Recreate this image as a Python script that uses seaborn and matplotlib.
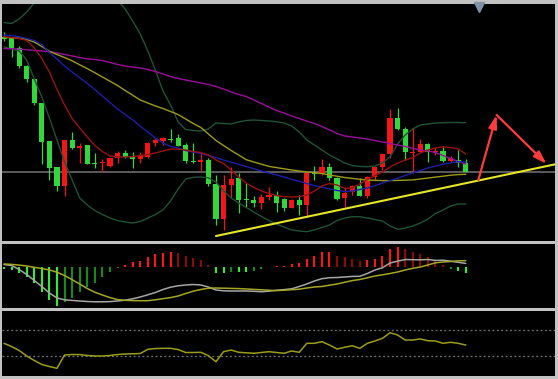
import numpy as np
import matplotlib
matplotlib.use("Agg")
import matplotlib.pyplot as plt
import seaborn as sns

# ---------------- data ----------------
opens = [213.3, 212.3, 202.3, 184.3, 170.7, 147.3, 109, 82.7, 64, 110, 101.7, 105, 87.3, 86.7, 84.3, 91.7,
         96.7, 92.7, 91.3, 93, 107.3, 109.3, 111.3, 111.7, 105, 89.3, 88, 90, 66, 31.3, 64.7, 71.7,
         51, 50, 46.7, 52.7, 54.7, 51.3, 42.3, 50, 45, 76.7, 76, 83.3, 72.3, 51.7, 57.7, 64.3,
         54, 73.3, 83.3, 95.7, 131.7, 120.7, 97.3, 98.3, 106, 97.7, 99, 89, 90, 87.3]
closes = [210.7, 202.3, 184.3, 170.7, 147.3, 108.3, 82.3, 64, 110, 101.7, 104.3, 86.3, 86.3, 88, 91.7, 97.3,
          92.7, 91.3, 94, 107.3, 110, 111.7, 110.5, 104.3, 89, 88, 90, 66, 31, 64.7, 70.7, 50,
          49.7, 46.7, 53.3, 54.7, 46.7, 41.7, 50, 45, 76.7, 76, 83.3, 71.7, 50.7, 57.3, 64.3, 54.3,
          73.3, 83.3, 95.7, 131.7, 120.7, 97.7, 98.3, 106, 98.3, 99, 89, 92.3, 87.3, 78.3]
highs = [218, 213, 204.3, 185, 171, 147.3, 109, 83, 110, 117.7, 106.7, 105, 96.7, 91, 92, 99,
         100, 98.3, 98, 108, 111.7, 113, 121, 116, 106.7, 107, 96.7, 91.7, 75, 75, 83.3, 76.7,
         66.7, 54, 56, 63.3, 59.3, 52, 51, 55, 76.7, 84.3, 91, 86.7, 73, 63.3, 65, 72.3,
         74, 84, 96, 141, 141.7, 123.3, 121.7, 111, 106.7, 103.3, 103, 94, 100, 90.7]
lows = [209, 193.3, 182.3, 167.7, 145, 85.7, 70, 59, 54.3, 101, 86.7, 86, 82.3, 78.3, 83.3, 86.7,
        92, 81.7, 86.7, 92.5, 104, 105, 108.3, 104, 86.7, 87, 79.3, 64, 25, 20, 53.3, 37.3,
        43.3, 43, 41, 50, 38.3, 39.3, 42, 35, 33.3, 70, 75, 70, 50, 43.3, 55, 54,
        52, 70, 80, 91.7, 120.5, 90, 76.7, 98, 88.3, 95, 88, 88, 83.3, 78.3]

ma_darkred = [213.3, 212.5, 211.5, 209.5, 202, 191.5, 178, 160.5, 145, 131.5, 122, 113, 104.5, 98.5, 94, 93,
              93, 93.3, 94.5, 95.5, 97, 99, 101, 100.7, 100, 98.5, 97.5, 95, 90, 86.5, 80, 73,
              67, 62.5, 59, 56.5, 54.5, 53.3, 53, 53.3, 55, 59, 64, 66.5, 65, 61.5, 62, 66,
              70.5, 74.5, 78, 83, 87, 90, 92.5, 97, 100, 102, 103.3, 102.5, 101, 96]
ma_blue = [215, 214.2, 213.4, 211.5, 209.5, 205.5, 197.5, 191, 184, 178, 172.3, 166.5, 160.5, 154, 147.5, 141,
           135.5, 130, 123.8, 118, 112, 107, 103.5, 102, 99.5, 97.7, 96.5, 94.5, 92.5, 90, 87.8, 85.7,
           83.5, 81.3, 79, 77, 75, 73, 70.7, 68.7, 66.5, 64.4, 62.7, 61, 59.5, 58.5, 59, 60.5,
           62, 64.3, 67, 69.4, 71.7, 74.5, 77, 79.5, 82, 84, 85.8, 87.2, 88.3, 87.8]
ma_olive = [212.5, 212.2, 211.8, 210.5, 208, 203.5, 198.7, 195.5, 192.5, 189.2, 185.2, 181.4, 177.3, 173, 168.8, 164.5,
            159.5, 154.8, 150, 147, 144, 141.5, 138.5, 135.5, 131, 126.5, 122.5, 116, 109.5, 104.5, 99.5, 95,
            90.3, 88, 85.8, 83.6, 82.4, 81.2, 80, 79, 78, 77.3, 76.4, 75, 73.8, 72.5, 71.6, 70.7,
            70, 69.7, 69.4, 69.4, 69.6, 69.8, 70.1, 71, 71.9, 72.9, 73.8, 74.8, 75.4, 75.7]
ma_purple = [201.5, 201.2, 200.8, 200.3, 199.7, 199, 198.2, 197, 195.5, 194, 192.5, 191.2, 190.5, 189.5, 187.5, 185.5,
             184, 183, 182, 180.5, 178.5, 176, 173.5, 171.5, 170, 168.5, 167, 165.5, 163.5, 161, 158, 155.5,
             153.5, 150, 146.5, 143, 139.5, 137, 134, 131.5, 129, 126.5, 123.5, 120, 116.5, 114, 113, 112,
             111, 109.5, 108, 106.5, 105, 103.5, 101.7, 100, 99, 97.5, 94.5, 91.5, 88.5, 86]
boll_upper = [227.5, 226.5, 231, 238, 247, 258, 268, 276, 281, 283, 283, 281, 276, 268, 259, 250,
              241, 229, 216, 199, 180, 159, 145, 128, 120.5, 119.5, 119, 121, 127, 126.5, 126, 128,
              129.5, 130, 129.5, 129, 128.3, 127, 124, 118, 110, 105, 100, 95, 91, 87, 84.5, 83.5,
              83.3, 84, 87, 93.3, 106, 115, 121, 125, 126, 127, 127.3, 127.5, 127.5, 127.3]
boll_lower = [203, 201, 199, 190, 171, 153, 132, 110, 88, 70, 52, 45, 39.5, 35.5, 32, 29.5,
              28, 27, 28.5, 32, 35.5, 40, 49, 61, 71, 72.7, 73, 72.2, 68, 59.5, 52, 47,
              42.5, 38, 33.5, 29.5, 26, 23, 20, 19, 18.3, 20, 22.5, 25, 29.5, 32, 33.3, 33.3,
              32, 30.5, 29, 24, 20.7, 22, 24, 27, 31, 36.5, 40, 44, 46, 46]

level_price = 78
trend_x = [28, 73]
trend_y = [14, 86]
arrow_up = [(62.66, 70), (65.08, 135)]
arrow_down = [(65.08, 135), (71.69, 86)]
marker_pos = (62.8, 243.5)

macd_hist = [-0.17, -0.27, -0.6, -1.0, -1.6, -2.44, -3.27, -3.87, -3.5, -3.04, -2.44, -1.94, -1.54, -1.0, -0.47, -0.1,
             0.23, 0.5, 0.66, 1.0, 1.33, 1.46, 1.56, 1.4, 1.16, 0.9, 0.73, 0.23, -0.6, -0.6, -0.44, -0.5,
             -0.5, -0.37, -0.2, 0.06, 0.13, 0.13, 0.32, 0.4, 0.83, 1.16, 1.53, 1.53, 1.16, 1.0, 0.83, 0.6,
             0.75, 0.87, 1.16, 1.87, 2.06, 1.78, 1.56, 1.36, 1.0, 0.62, 0.2, -0.15, -0.34, -0.57]
macd_line = [0.28, 0.18, -0.22, -0.72, -1.32, -1.92, -2.57, -3.07, -3.25, -3.31, -3.37, -3.42, -3.45, -3.45, -3.43, -3.37,
             -3.29, -3.15, -2.97, -2.75, -2.52, -2.22, -1.99, -1.85, -1.77, -1.72, -1.77, -1.97, -2.27, -2.35, -2.37, -2.37,
             -2.37, -2.4, -2.44, -2.39, -2.3, -2.23, -2.15, -1.92, -1.67, -1.37, -1.14, -1.04, -1.02, -0.97, -0.91, -0.9,
             -0.62, -0.27, -0.05, 0.43, 0.61, 0.78, 0.76, 0.75, 0.78, 0.69, 0.71, 0.61, 0.5, 0.39]
macd_signal = [0.33, 0.29, 0.22, 0.13, 0.0, -0.13, -0.27, -0.49, -0.82, -1.24, -1.67, -2.12, -2.49, -2.77, -3.03, -3.23,
               -3.3, -3.33, -3.34, -3.34, -3.25, -3.14, -3.03, -2.87, -2.62, -2.39, -2.22, -2.09, -2.07, -2.09, -2.11, -2.13,
               -2.17, -2.21, -2.25, -2.29, -2.33, -2.29, -2.24, -2.19, -2.07, -1.97, -1.92, -1.79, -1.67, -1.5, -1.33, -1.22,
               -1.05, -0.87, -0.75, -0.62, -0.47, -0.27, -0.1, 0.03, 0.23, 0.45, 0.53, 0.58, 0.65, 0.66]

rsi = [49.5, 44.6, 38.5, 30, 23.1, 16.9, 13.8, 11.1, 31.5, 32.3, 32.2, 30.8, 30, 30, 30.8, 32.3,
       33.1, 33.4, 33.8, 40.3, 41.5, 41.8, 41.8, 40, 35.4, 35.4, 35.7, 30.5, 21.2, 36.6, 39.2, 35.7,
       34.9, 34.2, 35.4, 36.6, 35.4, 34.2, 37.7, 35.7, 49.5, 49.5, 52, 46.9, 40.8, 43.4, 45.8, 41.8,
       49.5, 53.1, 57.2, 65.8, 62.3, 54.6, 54.6, 56.2, 53.5, 53.1, 49.5, 51.1, 49.5, 46.9]
rsi_levels = [70, 30]

# ---------------- style ----------------
sns.set_theme(style="dark")
plt.rcParams['font.family'] = ['DejaVu Sans']

RED = '#f41616'
GREEN = '#30d83a'
W, H = 558, 379
fig = plt.figure(figsize=(W / 100, H / 100), dpi=100, facecolor='#c2c2c2')


def add_ax(top, bottom):
    ax = fig.add_axes([2 / W, 1 - bottom / H, 553 / W, (bottom - top) / H])
    ax.set_facecolor('black')
    for s in ax.spines.values():
        s.set_visible(False)
    ax.set_xticks([])
    ax.set_yticks([])
    ax.grid(False)
    ax.set_xlim(-0.264, 72.79)
    return ax


idx = np.arange(len(opens))

# ---------------- main price panel ----------------
ax = add_ax(4, 240.5)
ax.set_ylim(9.5, 246)
ax.axhline(level_price, color='#5c5c5c', lw=1.4, zorder=1)

o = np.array(opens)
c = np.array(closes)
cols = np.where(c >= o, RED, GREEN)
ax.vlines(idx, lows, highs, colors=cols, lw=0.9, zorder=3)
body_bottom = np.minimum(o, c)
body_h = np.maximum(np.abs(c - o), 1.0)
ax.bar(idx, body_h, bottom=body_bottom, width=0.68, color=cols, edgecolor='none', zorder=4)

for arr, col in [(boll_upper, '#1f5236'), (boll_lower, '#1f5236'), (ma_purple, '#9a0f9a'),
                 (ma_olive, '#9c9c18'), (ma_blue, '#1e1ea8'), (ma_darkred, '#9a1212')]:
    sns.lineplot(x=idx, y=arr, ax=ax, color=col, linewidth=1.0, legend=False, zorder=5)

sns.lineplot(x=trend_x, y=trend_y, ax=ax, color='#e6e628', linewidth=1.5, legend=False, zorder=6)

for seg in (arrow_up, arrow_down):
    ax.annotate('', xy=seg[1], xytext=seg[0],
                arrowprops=dict(arrowstyle='-|>,head_length=0.7,head_width=0.22', color='#ff3c3c',
                                lw=1.6, mutation_scale=11, shrinkA=0, shrinkB=0),
                zorder=7)
ax.plot([marker_pos[0]], [marker_pos[1]], marker='v', markersize=7, color='#8091a8',
        clip_on=False, zorder=8, linestyle='none')
ax.set_xlabel('')
ax.set_ylabel('')

# ---------------- MACD panel ----------------
ax2 = add_ax(243.5, 307.5)
ax2.set_ylim(-4.02, 2.38)
h = np.array(macd_hist)
prev = np.concatenate([[0.0], h[:-1]])
grow = np.abs(h) >= np.abs(prev)
hcols = np.where(h >= 0, np.where(grow, '#ff1414', '#8e0808'), np.where(grow, '#2cf02c', '#168c16'))
ax2.vlines(idx, 0, h, colors=hcols, lw=1.5, zorder=2)
sns.lineplot(x=idx, y=macd_line, ax=ax2, color='#a6a6a6', linewidth=1.1, legend=False, zorder=3)
sns.lineplot(x=idx, y=macd_signal, ax=ax2, color='#a6a626', linewidth=1.1, legend=False, zorder=4)
ax2.set_xlabel('')
ax2.set_ylabel('')

# ---------------- RSI panel ----------------
ax3 = add_ax(310.5, 375.5)
ax3.set_ylim(0, 100)
for lv in rsi_levels:
    ax3.axhline(lv, color='#767676', lw=0.9, linestyle=(0, (1.5, 2.0)), zorder=1)
sns.lineplot(x=idx, y=rsi, ax=ax3, color='#9c9c1a', linewidth=1.1, legend=False, zorder=3)
ax3.set_xlabel('')
ax3.set_ylabel('')

fig.savefig('out.png', dpi=100, facecolor=fig.get_facecolor())
